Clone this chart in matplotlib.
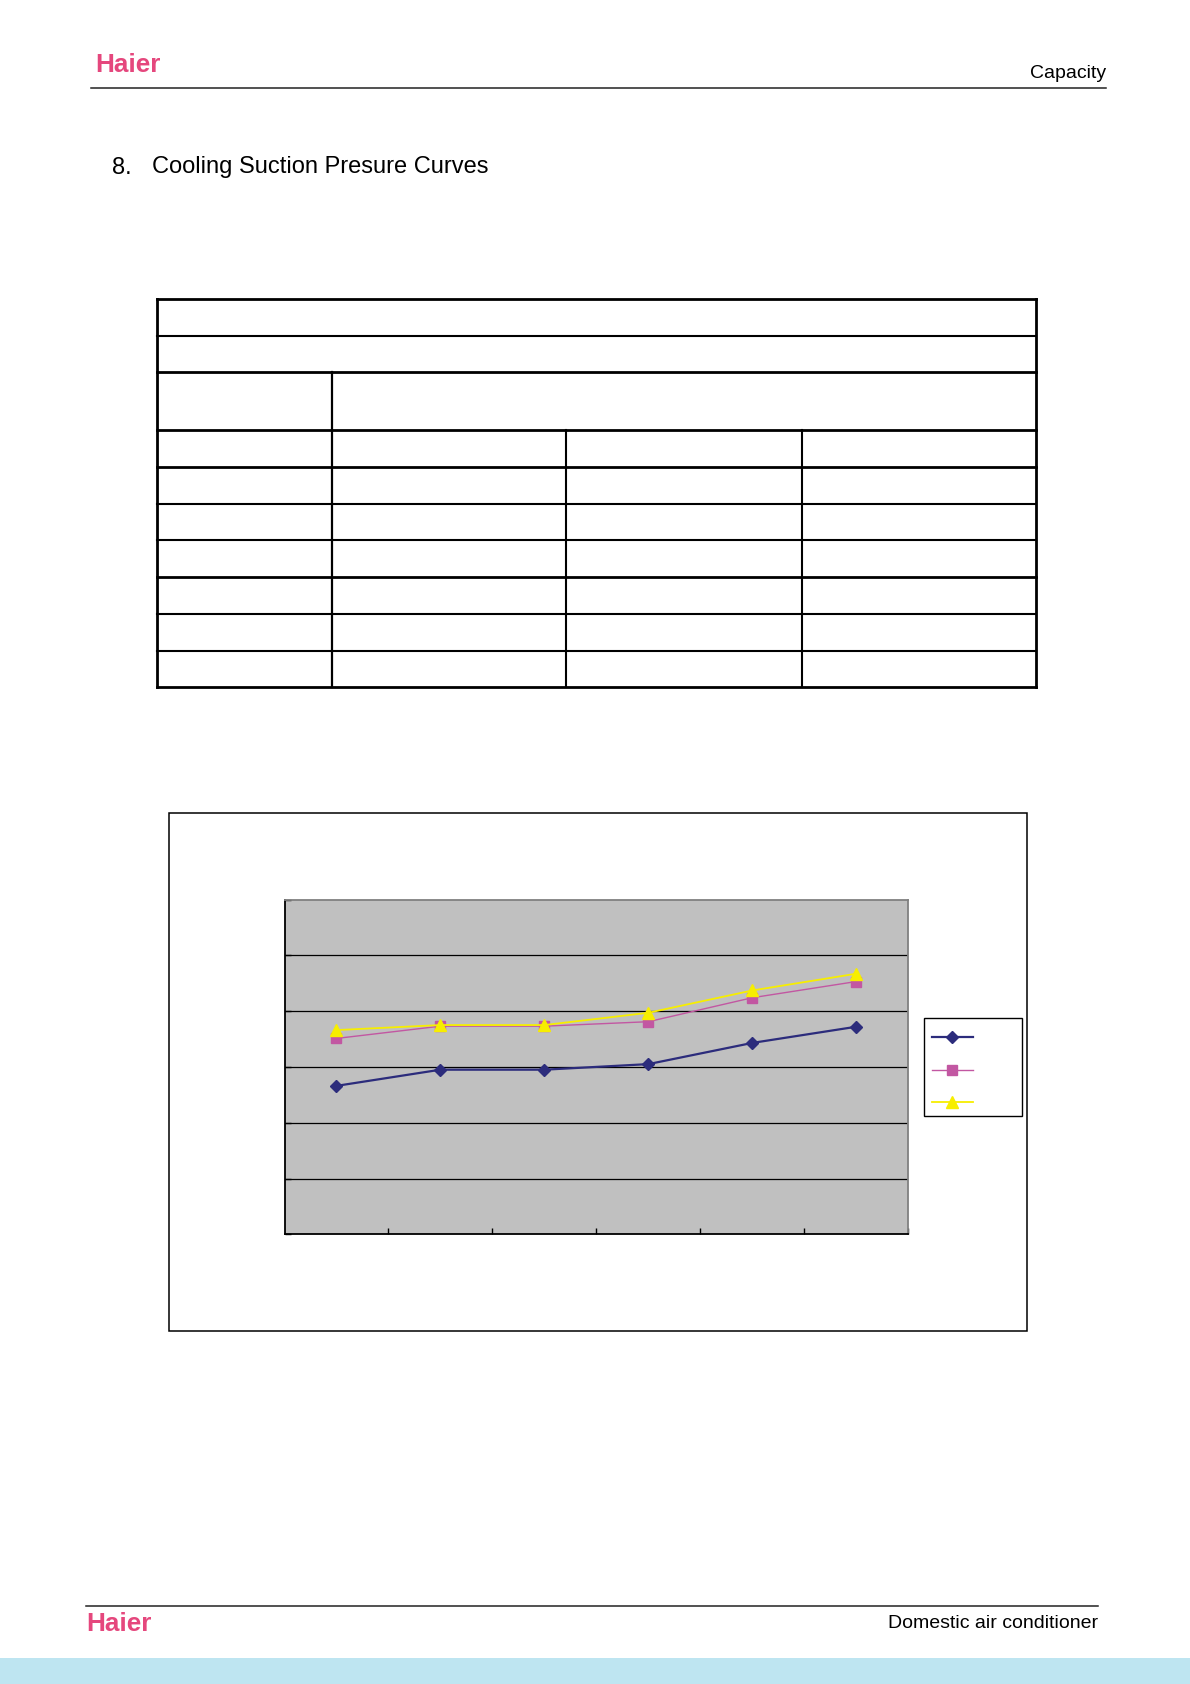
import matplotlib
matplotlib.use("Agg")
import matplotlib.pyplot as plt
from matplotlib.patches import Rectangle

# ==============================
# DATA (in grid units)
# ==============================
points = [1, 2, 3, 4, 5, 6]
series_1 = [2.66, 2.95, 2.95, 3.05, 3.43, 3.72]
series_2 = [3.51, 3.73, 3.73, 3.81, 4.24, 4.53]
series_3 = [3.66, 3.75, 3.75, 3.97, 4.37, 4.67]
y_grid = [0, 1, 2, 3, 4, 5, 6]

plt.rcParams['font.family'] = ['Liberation Sans', 'DejaVu Sans']

W, H = 1190, 1684
fig = plt.figure(figsize=(W / 100, H / 100), dpi=100)

# page layer in pixel coordinates
page = fig.add_axes([0, 0, 1, 1])
page.set_xlim(0, W)
page.set_ylim(H, 0)
page.axis("off")

pink = "#E5477D"

# ==============================
# HEADER / FOOTER
# ==============================
page.text(95, 72.5, "Haier", color=pink, fontsize=18.8, fontweight="bold", va="baseline")
page.text(1106, 78.5, "Capacity", fontsize=14, ha="right", va="baseline")
page.plot([91, 1106], [88.3, 88.3], color="#222222", lw=1.1)

page.text(112, 173.5, "8.", fontsize=17, va="baseline")
page.text(152, 173.5, "Cooling Suction Presure Curves", fontsize=17, va="baseline")

page.plot([86, 1098], [1606, 1606], color="#222222", lw=1.1)
page.text(86, 1631, "Haier", color=pink, fontsize=18.8, fontweight="bold", va="baseline")
page.text(1098, 1627.5, "Domestic air conditioner", fontsize=14, ha="right", va="baseline")
page.add_patch(Rectangle((0, 1657.5), W, H - 1657.5, color="#BEE5F1", lw=0))

# ==============================
# EMPTY TABLE
# ==============================
rows = [298.7, 335.7, 372, 430, 467, 503.7, 540.3, 577, 613.7, 650.7, 687.3]
cols = [157, 331.5, 566, 801.5, 1036]
thick_rows = {298.7, 372, 430, 467, 577, 687.3}
for r in rows:
    page.plot([cols[0], cols[-1]], [r, r], color="black",
              lw=2.0 if r in thick_rows else 1.5, solid_capstyle="projecting")
page.plot([cols[0], cols[0]], [rows[0], rows[-1]], color="black", lw=2.0)
page.plot([cols[-1], cols[-1]], [rows[0], rows[-1]], color="black", lw=2.0)
page.plot([cols[1], cols[1]], [rows[2], rows[-1]], color="black", lw=1.6)
for c in cols[2:4]:
    page.plot([c, c], [rows[3], rows[-1]], color="black", lw=1.5)

# ==============================
# CHART
# ==============================
page.add_patch(Rectangle((168.5, 813.3), 1027.3 - 168.5, 1331.4 - 813.3,
                         fill=False, edgecolor="black", lw=1.1))
# legend frame
page.add_patch(Rectangle((924.3, 1018.3), 1021.7 - 924.3, 1116.3 - 1018.3,
                         fill=False, edgecolor="black", lw=1.0))

left, right, top, bottom = 284.5, 908.3, 899.5, 1234.3
ax = fig.add_axes([left / W, 1 - bottom / H, (right - left) / W, (bottom - top) / H])
ax.set_facecolor("#C0C0C0")

l1, = ax.plot(points, series_1, color="#2C2C7C", lw=1.6, marker="D", ms=6.5,
              markeredgecolor="#2C2C7C", zorder=3)
l2, = ax.plot(points, series_2, color="#C257A2", lw=1.0, marker="s", ms=6.5,
              markeredgecolor="#C257A2", zorder=4)
l3, = ax.plot(points, series_3, color="#F7EE00", lw=1.3, marker="^", ms=8,
              markeredgecolor="#F7EE00", zorder=5)

ax.set_xlim(0.5, 6.5)
ax.set_ylim(y_grid[0], y_grid[-1])
ax.set_xticks([p + 0.5 for p in points])
ax.set_yticks(y_grid)
ax.set_xticklabels([])
ax.set_yticklabels([])
ax.tick_params(axis="both", direction="in", length=4.5, width=1.0, color="black")
for y in y_grid[1:-1]:
    ax.axhline(y, color="black", lw=0.9, zorder=1)

for s in ["left", "bottom"]:
    ax.spines[s].set_color("black")
    ax.spines[s].set_linewidth(1.3)
for s in ["top", "right"]:
    ax.spines[s].set_color("#808080")
    ax.spines[s].set_linewidth(1.3)

# legend without text, as in the source
leg = fig.legend([l1, l2, l3], [" ", " ", " "], loc="center left",
                 bbox_to_anchor=(932 / W, 1 - 1071.7 / H), bbox_transform=fig.transFigure,
                 borderaxespad=0, borderpad=0, fontsize=10, numpoints=1,
                 handlelength=2.93, handleheight=1.5, handletextpad=0.5,
                 labelspacing=1.11, frameon=False)

fig.savefig("out.png", dpi=100)
